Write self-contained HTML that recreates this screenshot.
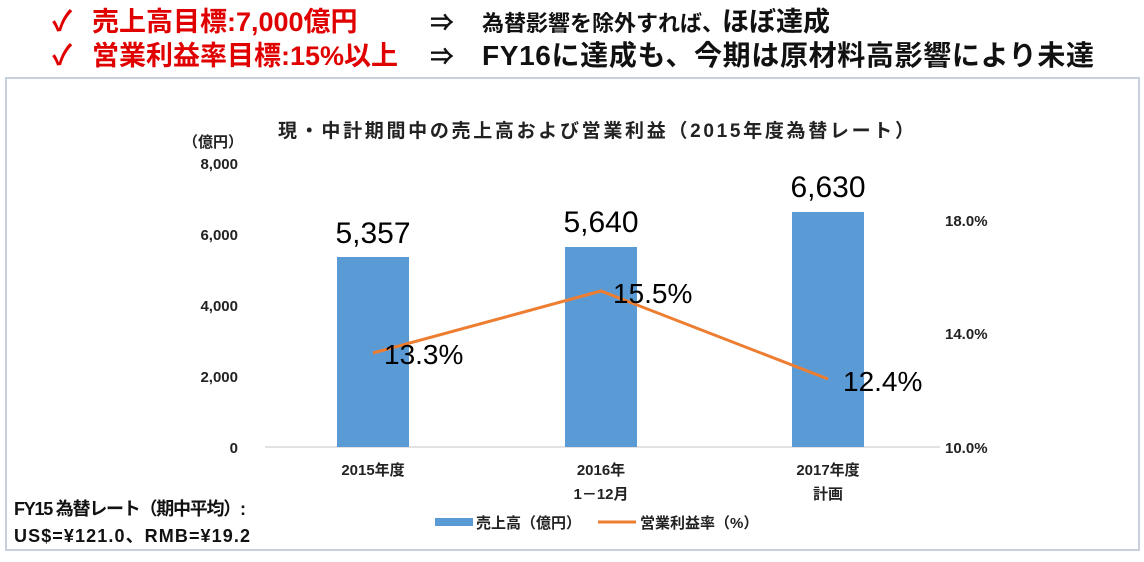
<!DOCTYPE html>
<html><head><meta charset="utf-8"><style>
body{margin:0;width:1144px;height:557px;background:#fff;overflow:hidden;font-family:"Liberation Sans","Noto Sans CJK JP",sans-serif}
</style></head><body>
<svg width="1144" height="557" xmlns="http://www.w3.org/2000/svg" font-family="Liberation Sans, Noto Sans CJK JP, sans-serif">
<g font-weight="bold">
<text x="52" y="31" font-size="28" fill="#e00000">✓</text>
<text x="92" y="31" font-size="27" fill="#e00000">売上高目標:7,000億円</text>
<text x="430" y="31" font-size="24" fill="#111">⇒</text>
<text x="482" y="31" font-size="22" fill="#111">為替影響を除外すれば、</text>
<text x="722" y="31" font-size="27" fill="#111">ほぼ達成</text>
<text x="52" y="65" font-size="28" fill="#e00000">✓</text>
<text x="92" y="65" font-size="27" fill="#e00000">営業利益率目標:15%以上</text>
<text x="430" y="65" font-size="24" fill="#111">⇒</text>
<text x="482" y="65" font-size="28" fill="#111" textLength="612">FY16に達成も、今期は原材料高影響により未達</text>
</g>
<rect x="6" y="78" width="1133" height="472" fill="#fff" stroke="#c8d0dc" stroke-width="2"/>
<text x="596" y="137" font-size="19" font-weight="bold" text-anchor="middle" fill="#222" textLength="636">現・中計期間中の売上高および営業利益（2015年度為替レート）</text>
<text x="213" y="147" font-size="15" font-weight="bold" text-anchor="middle" fill="#222">（億円）</text>
<g font-size="15" font-weight="bold" fill="#222" text-anchor="end">
<text x="238" y="169">8,000</text><text x="238" y="240">6,000</text><text x="238" y="311">4,000</text><text x="238" y="382">2,000</text><text x="238" y="453">0</text>
</g>
<g font-size="15" font-weight="bold" fill="#222">
<text x="945" y="226">18.0%</text><text x="945" y="339">14.0%</text><text x="945" y="453">10.0%</text>
</g>
<line x1="265" y1="447" x2="940" y2="447" stroke="#d9d9d9" stroke-width="1.5"/>
<g fill="#5b9bd5">
<rect x="337" y="257" width="72" height="190"/>
<rect x="565" y="247" width="72" height="200"/>
<rect x="792" y="212" width="72" height="235"/>
</g>
<polyline points="373,353 601,291 828,379" fill="none" stroke="#ed7d31" stroke-width="3"/>
<g font-size="30" fill="#000" text-anchor="middle">
<text x="373" y="243">5,357</text><text x="601" y="232">5,640</text><text x="828" y="197">6,630</text>
</g>
<g font-size="28" fill="#000">
<text x="384" y="364">13.3%</text><text x="613" y="303">15.5%</text><text x="843" y="391">12.4%</text>
</g>
<g font-size="15" font-weight="bold" fill="#222" text-anchor="middle">
<text x="373" y="475">2015年度</text>
<text x="601" y="475">2016年</text><text x="601" y="499">1－12月</text>
<text x="828" y="475">2017年度</text><text x="828" y="499">計画</text>
</g>
<rect x="435" y="518" width="38" height="8" fill="#5b9bd5"/>
<text x="476" y="528" font-size="15" font-weight="bold" fill="#222">売上高（億円）</text>
<line x1="598" y1="522" x2="636" y2="522" stroke="#ed7d31" stroke-width="3"/>
<text x="640" y="528" font-size="15" font-weight="bold" fill="#222">営業利益率（%）</text>
<g font-size="18" font-weight="bold" fill="#111">
<text x="14" y="515" textLength="232">FY15 為替レート（期中平均）:</text>
<text x="14" y="542" textLength="236">US$=¥121.0、RMB=¥19.2</text>
</g>
</svg>
</body></html>
